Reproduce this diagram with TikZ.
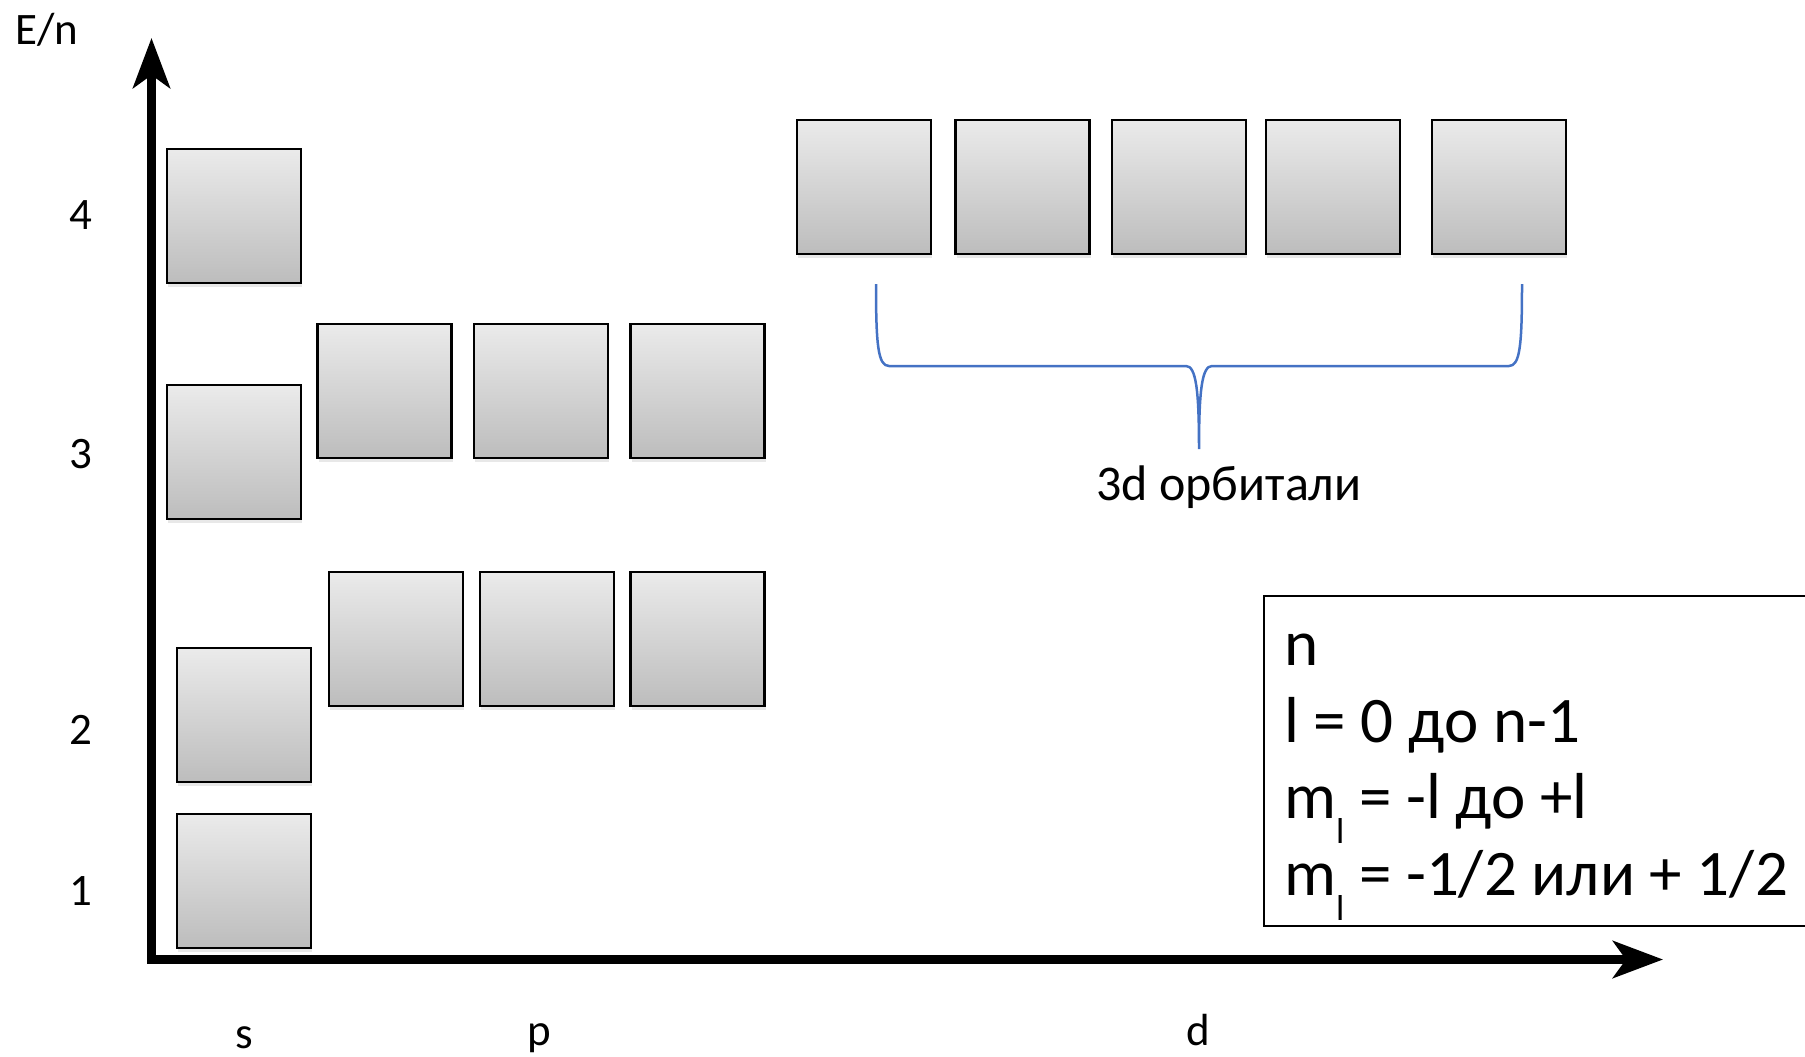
\documentclass[tikz,border=0pt]{standalone}
\usepackage{fontspec}
\setmainfont{Carlito}
\usepackage{tikz}
\usetikzlibrary{arrows.meta,shadows}
\definecolor{braceblue}{RGB}{68,114,196}
\newcommand{\ml}{m\raisebox{-25pt}{\fontsize{36}{36}\selectfont l}}
\tikzset{
    orbital/.style={draw, line width=2.5pt, minimum size=134pt, inner sep=0pt,
      top color=black!8, bottom color=black!26,
      drop shadow={shadow xshift=1pt, shadow yshift=-4pt, opacity=.18}},
    axis/.style={line width=8.5pt,
      {Stealth[length=50pt,width=37pt,inset=13pt]}-{Stealth[length=50pt,width=37pt,inset=13pt]}},
    curly/.style={draw=braceblue, line width=2.5pt},
    lbl/.style={font=\fontsize{45}{45}\selectfont, inner sep=0pt}
}

\begin{document}
\begin{tikzpicture}[x=1pt,y=-1pt]
    \useasboundingbox (0,0) rectangle (1805,1057);
    % axes
    \coordinate (ytip) at (151.5,38);
    \coordinate (origin) at (151.5,959.5);
    \coordinate (xtip) at (1663,959.5);
    \draw[axis] (ytip) -- (origin) -- (xtip);
    \node[lbl, anchor=base west] (en) at (15,45) {E/n};
    \foreach \n/\yy in {4/229,3/468,2/744,1/905} {
      \node[lbl, anchor=base] (lev\n) at (81,\yy) {\n};
    }
    \node[lbl, anchor=base] (ls) at (244,1048) {s};
    \node[lbl, anchor=base] (lp) at (539,1045) {p};
    \node[lbl, anchor=base] (ld) at (1198,1045) {d};
    % s orbitals
    \node[orbital] (s4) at (234,216) {};
    \node[orbital] (s3) at (234,452) {};
    \node[orbital] (s2) at (244,715) {};
    \node[orbital] (s1) at (244,881) {};
    % p orbitals
    \foreach \i/\xx in {1/384.5,2/541,3/697.5} {
      \node[orbital] (p3\i) at (\xx,391) {};
    }
    \foreach \i/\xx in {1/396,2/547,3/697.5} {
      \node[orbital] (p2\i) at (\xx,639) {};
    }
    % 3d orbitals
    \foreach \i/\xx in {1/864,2/1022.5,3/1179,4/1333,5/1499} {
      \node[orbital] (d\i) at (\xx,187) {};
    }
    \draw[curly] (876,284) .. controls (876,345) and (878,366) .. (889,366)
      -- (1186,366) .. controls (1196,366) and (1199,390) .. (1199,449)
      .. controls (1199,390) and (1202,366) .. (1212,366)
      -- (1509,366) .. controls (1520,366) and (1522,345) .. (1522,284);
    \node[font=\fontsize{50}{50}\selectfont, anchor=base] (dlabel) at (1229,500)
      {3d орбитали};
    % quantum numbers
    \draw[line width=2pt] (1815,596) -- (1264,596) -- (1264,926) -- (1815,926);
    \foreach \i/\yy/\txt in {1/665/{n},2/742/{l = 0 до n-1},
        3/818/{\ml{} = -l до +l},4/895/{\ml{} = -1/2 или + 1/2}} {
      \node[font=\fontsize{65}{65}\selectfont, anchor=base west, inner sep=0pt]
        (rule\i) at (1284,\yy) {\txt};
    }
\end{tikzpicture}
\end{document}
